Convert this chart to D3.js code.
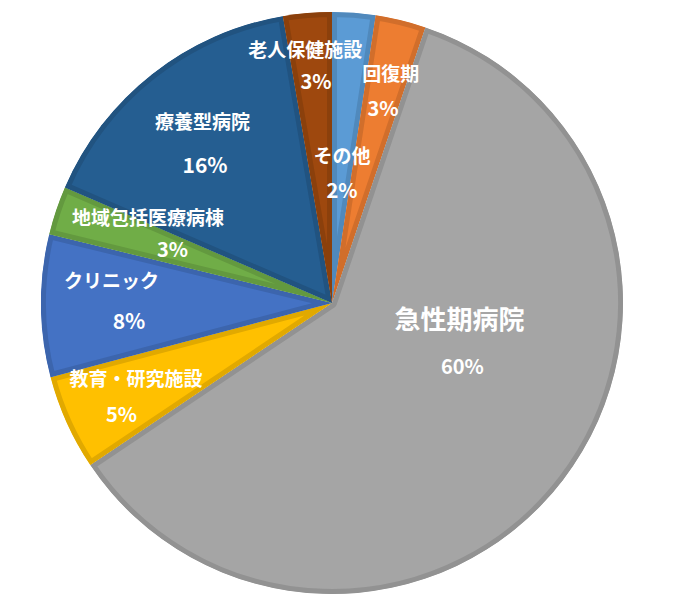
<!DOCTYPE html>
<html>
<head>
<meta charset="utf-8">
<script src="https://cdn.jsdelivr.net/npm/d3@7"></script>
<style>
  html, body { margin: 0; padding: 0; background: #fff; }
  svg { display: block; }
  text { font-family: "Noto Sans CJK JP", "Noto Sans", sans-serif; font-weight: 700; fill: #fff; }
</style>
</head>
<body>
<svg id="chart" width="682" height="600"></svg>
<script>
// ---- data ----
const categories = ["その他", "回復期", "急性期病院", "教育・研究施設", "クリニック", "地域包括医療病棟", "療養型病院", "老人保健施設"];
const values = [2.4, 2.8, 60.4, 5.3, 7.9, 2.7, 15.8, 2.7];
const colors = ["#5B9BD5", "#ED7D31", "#A5A5A5", "#FFC000", "#4472C4", "#70AD47", "#255E91", "#9E480E"];

// ---- label layout (polar: angle in degrees clockwise from top, radius as fraction) ----
const nameLayout = [[3.9, 0.51], [14.3, 0.819], [96.7, 0.441], [249.3, 0.72], [276.0, 0.762], [295.1, 0.698], [324.7, 0.77], [-6.0, 0.881]];
const pctLayout  = [[5.1, 0.39], [14.6, 0.696], [115.6, 0.497], [242.4, 0.816], [265.2, 0.70], [289.0, 0.58], [317.7, 0.648], [-4.1, 0.768]];
const nameSize = [19, 19, 26, 19, 19, 19, 19, 19];
const pctSize  = [20, 20, 20, 20, 21, 20, 21, 20];

const svg = d3.select("#chart");
const cx = 332, cy = 303, R = 291;
const border = 5;

const total = d3.sum(values);
const dataset = categories.map((c, i) => ({ name: c, value: values[i], color: colors[i], i }));

const pie = d3.pie().value(d => d.value).sort(null);
const arcs = pie(dataset);
const arc = d3.arc().innerRadius(0).outerRadius(R);

const g = svg.append("g").attr("transform", `translate(${cx},${cy})`);
const defs = svg.append("defs");

arcs.forEach((a, k) => {
  defs.append("clipPath").attr("id", "clip" + k)
    .append("path").attr("d", arc(a));
});

g.selectAll("path.slice")
  .data(arcs)
  .join("path")
  .attr("class", "slice")
  .attr("d", arc)
  .attr("fill", d => d.data.color)
  .attr("stroke", d => d3.color(d.data.color).darker(0.35))
  .attr("stroke-width", border * 2)
  .attr("stroke-linejoin", "round")
  .attr("clip-path", (d, k) => `url(#clip${k})`);

const fmt = d3.format(".0%");
function polar(l) {
  const t = l[0] * Math.PI / 180, r = l[1] * R;
  return [r * Math.sin(t), -r * Math.cos(t)];
}

const labels = g.append("g");
arcs.forEach((a, k) => {
  const p1 = polar(nameLayout[k]);
  const p2 = polar(pctLayout[k]);
  labels.append("text")
    .attr("x", p1[0]).attr("y", p1[1])
    .attr("text-anchor", "middle")
    .attr("dominant-baseline", "central")
    .style("font-size", nameSize[k] + "px")
    .text(a.data.name);
  labels.append("text")
    .attr("x", p2[0]).attr("y", p2[1])
    .attr("text-anchor", "middle")
    .attr("dominant-baseline", "central")
    .style("font-size", pctSize[k] + "px")
    .text(fmt(a.data.value / total));
});
</script>
</body>
</html>
